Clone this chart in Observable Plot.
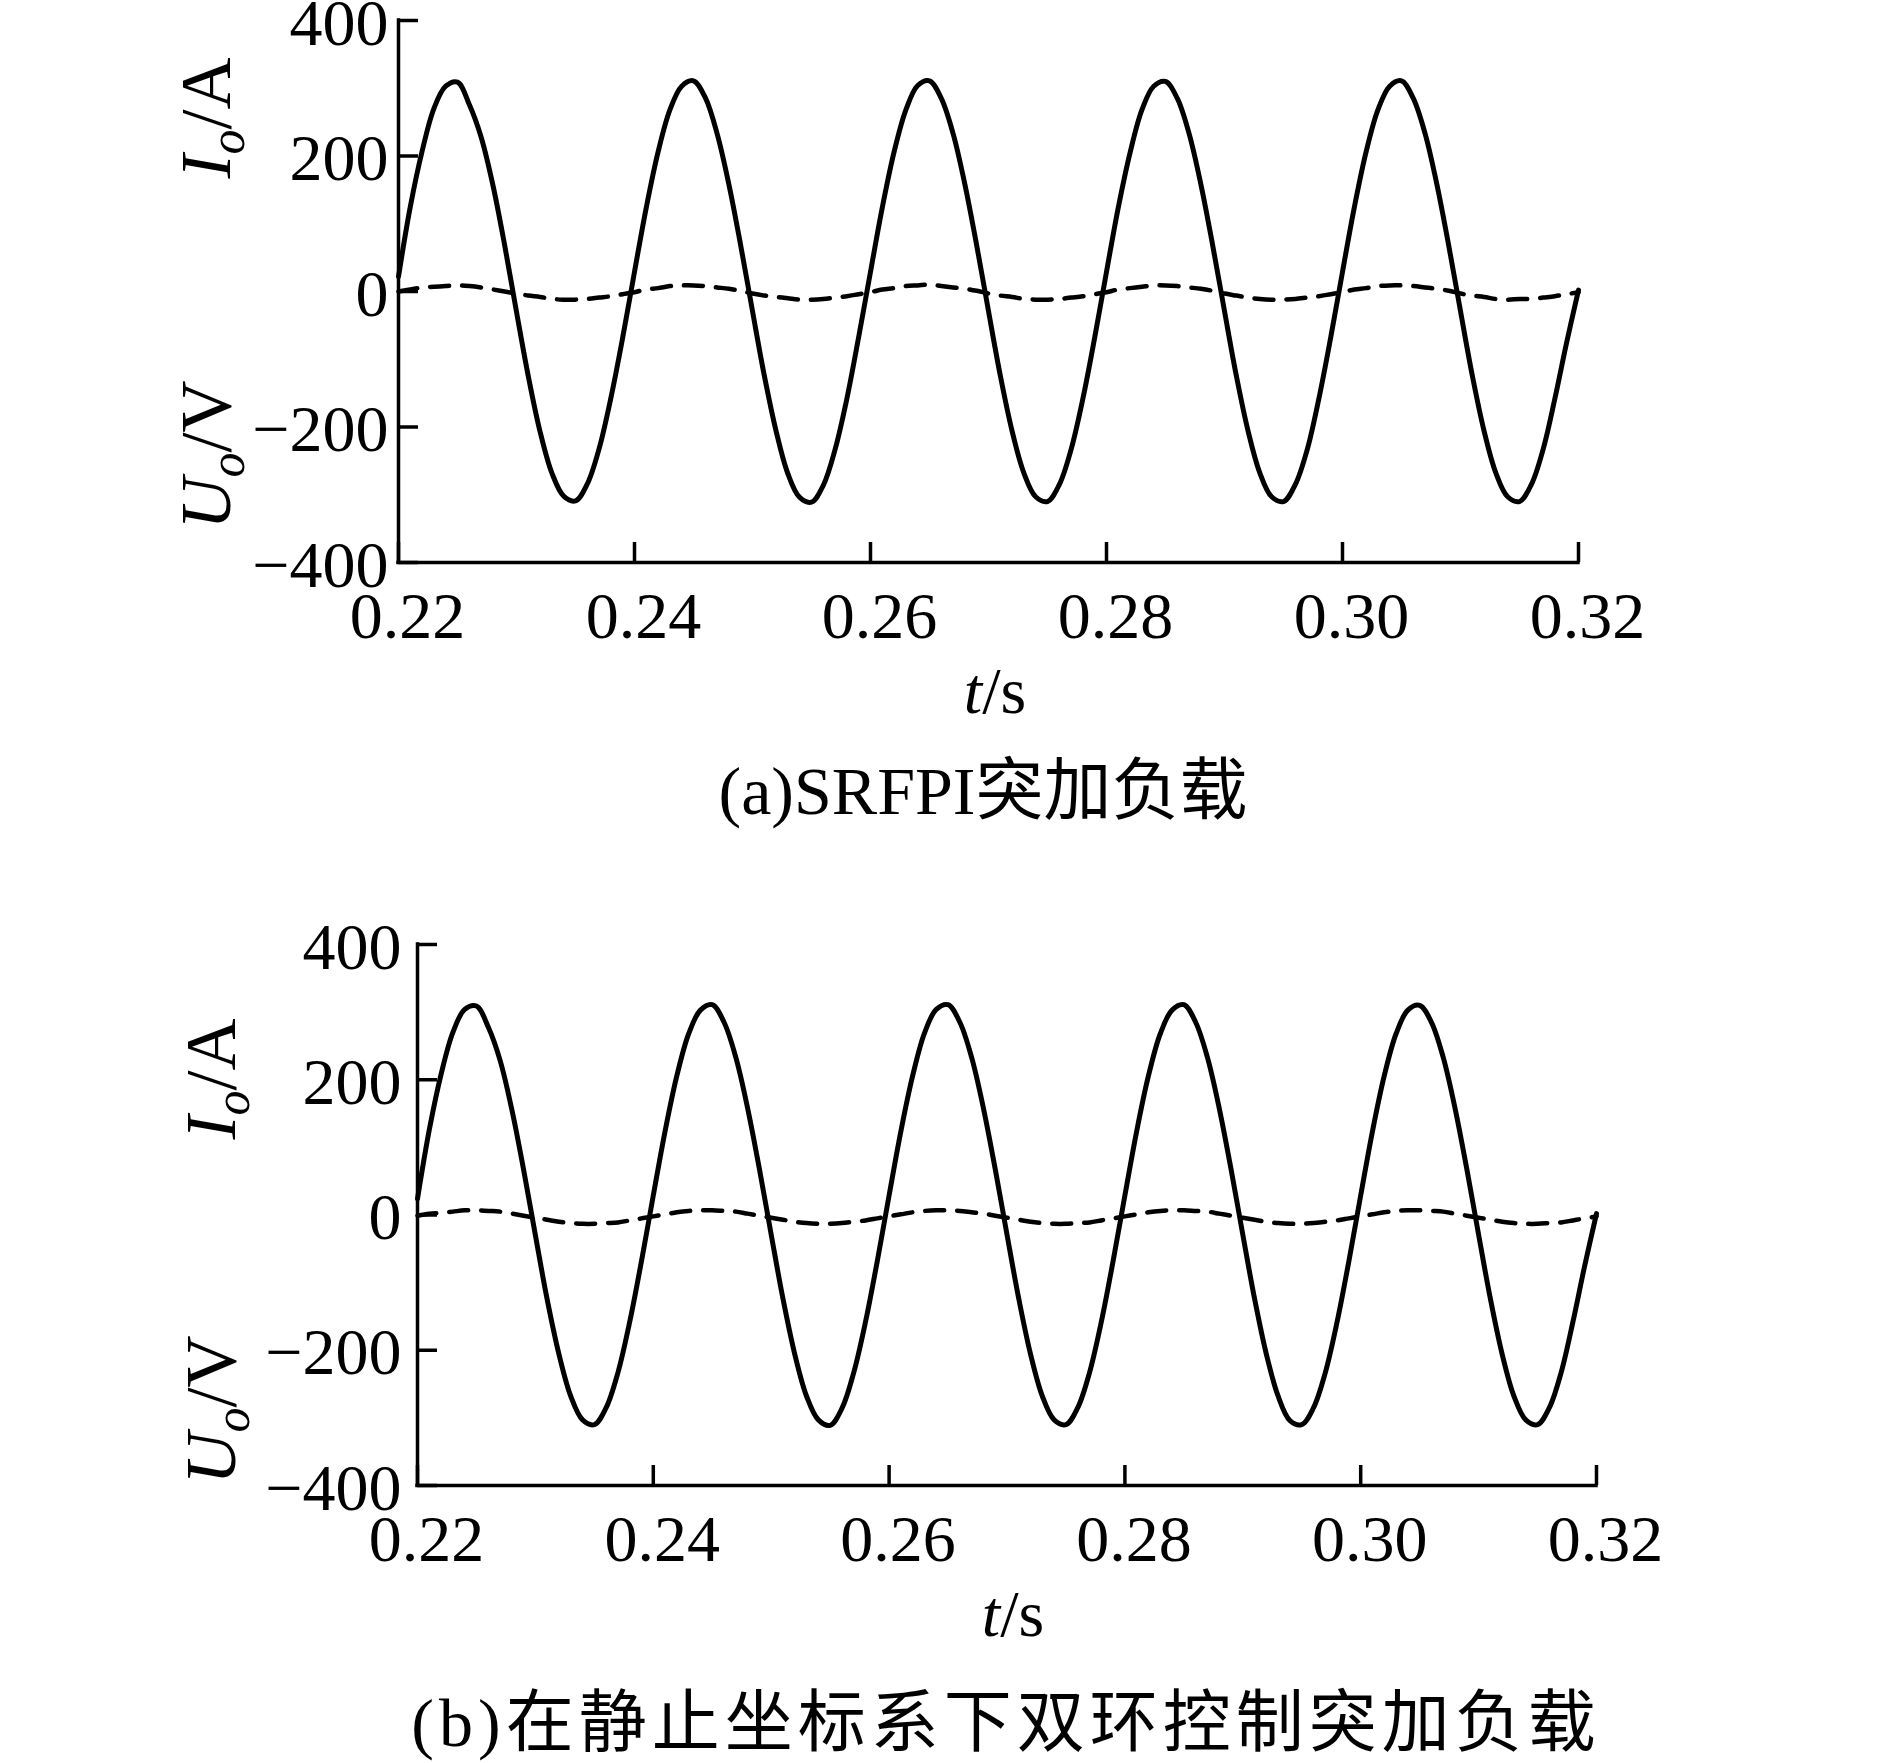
<!DOCTYPE html>
<html><head><meta charset="utf-8">
<script src="https://cdn.jsdelivr.net/npm/d3@7"></script>
<script src="https://cdn.jsdelivr.net/npm/@observablehq/plot@0.6"></script>
<style>
html,body{margin:0;padding:0;background:#fff;}
#root{position:relative;width:1889px;height:1763px;overflow:hidden;background:#fff;}
.panel{position:absolute;left:0;overflow:visible;}
.cap{position:absolute;left:0;text-align:center;font-family:"Liberation Serif","Noto Sans CJK SC",serif;font-size:68px;line-height:68px;color:#000;white-space:nowrap;}
</style></head><body><div id="root"></div>
<script>
// ---- data ----
const T = [0.220,0.221,0.222,0.223,0.224,0.225,0.226,0.227,0.228,0.229,
0.230,0.231,0.232,0.233,0.234,0.235,0.236,0.237,0.238,0.239,
0.240,0.241,0.242,0.243,0.244,0.245,0.246,0.247,0.248,0.249,
0.250,0.251,0.252,0.253,0.254,0.255,0.256,0.257,0.258,0.259,
0.260,0.261,0.262,0.263,0.264,0.265,0.266,0.267,0.268,0.269,
0.270,0.271,0.272,0.273,0.274,0.275,0.276,0.277,0.278,0.279,
0.280,0.281,0.282,0.283,0.284,0.285,0.286,0.287,0.288,0.289,
0.290,0.291,0.292,0.293,0.294,0.295,0.296,0.297,0.298,0.299,
0.300,0.301,0.302,0.303,0.304,0.305,0.306,0.307,0.308,0.309,
0.310,0.311,0.312,0.313,0.314,0.315,0.316,0.317,0.318,0.319,
0.320];

// (a) SRFPI: output voltage Uo (solid) and current Io (dashed)
const Ua = [22,125,207,270,303,309,276,228,157,68,-30,-125,-207,-268,-302,-309,-284,-232,-157,-68,
29,124,206,268,303,311,286,233,158,68,-29,-124,-206,-269,-304,-311,-286,-233,-158,-67,
29,124,206,268,304,311,285,233,158,68,-29,-124,-206,-268,-303,-310,-285,-233,-158,-68,
29,124,205,268,303,310,285,233,158,68,-29,-124,-206,-268,-303,-310,-285,-234,-158,-68,
29,124,206,268,303,311,285,233,158,68,-29,-124,-206,-268,-303,-310,-285,-233,-158,-75,
2];
const Ia = [0,3,6,7,8,9,8,6,3,0,-3,-6,-8,-11,-12,-12,-11,-9,-7,-4,
-1,3,5,8,9,9,8,6,4,1,-3,-6,-8,-10,-12,-12,-11,-9,-7,-4,
-1,3,5,8,9,10,8,6,4,1,-3,-6,-8,-11,-12,-12,-11,-9,-7,-4,
-1,3,5,7,9,9,8,6,4,1,-3,-6,-9,-11,-12,-12,-11,-9,-7,-4,
-1,3,5,8,9,9,8,6,4,1,-3,-6,-8,-11,-12,-11,-11,-9,-7,-4,
-1];

// (b) stationary-frame double loop
const Ub = [24,126,208,270,304,309,278,229,156,67,-30,-125,-206,-268,-303,-310,-285,-233,-158,-68,
29,124,206,268,303,311,285,233,158,68,-29,-124,-206,-268,-303,-311,-286,-233,-158,-68,
29,124,206,269,304,311,285,233,158,68,-29,-124,-206,-268,-303,-310,-285,-233,-158,-68,
29,124,206,268,303,311,285,233,158,68,-29,-124,-206,-268,-304,-310,-285,-233,-158,-68,
29,124,206,268,303,310,285,233,158,68,-29,-124,-206,-268,-303,-310,-285,-233,-158,-75,
2];
const Ib = [-1,2,3,5,7,7,6,5,2,-1,-4,-7,-10,-12,-13,-13,-12,-11,-8,-5,
-2,1,4,6,7,7,6,5,2,-1,-4,-7,-10,-12,-13,-13,-12,-10,-8,-5,
-2,1,4,6,7,7,6,4,2,-1,-4,-7,-10,-12,-13,-13,-12,-11,-8,-5,
-2,1,4,6,7,7,6,5,2,-1,-4,-7,-10,-12,-13,-13,-12,-10,-8,-5,
-2,1,4,6,7,7,6,5,2,-1,-4,-7,-10,-12,-13,-13,-12,-11,-8,-5,
-2];

const xTicks = [0.22,0.24,0.26,0.28,0.30,0.32];
const yTicks = [-400,-200,0,200,400];
const captionA = "(a)SRFPI突加负载";
const captionB = "(b)在静止坐标系下双环控制突加负载";

// ---- drawing ----
const W = 1889, H = 750;
function panel(U, I, cfg) {
  const innerW = W - cfg.ml - cfg.mr, innerH = H - cfg.mt - cfg.mb;
  const dU = T.map((t, i) => ({t, v: U[i]}));
  const dI = T.map((t, i) => ({t, v: I[i]}));
  const svg = Plot.plot({
    width: W, height: H,
    marginTop: cfg.mt, marginBottom: cfg.mb, marginLeft: cfg.ml, marginRight: cfg.mr,
    style: {fontFamily: "'Liberation Serif'", fontSize: "66px", background: "transparent", color: "black", overflow: "visible"},
    x: {domain: [0.22, 0.32], label: null},
    y: {domain: [-400, 400], label: null},
    marks: [
      Plot.line(dI, {x: "t", y: "v", stroke: "black", strokeWidth: 4.5, strokeDasharray: "19,13", curve: "catmull-rom"}),
      Plot.line(dU, {x: "t", y: "v", stroke: "black", strokeWidth: 5, curve: "catmull-rom"}),
      Plot.ruleX(xTicks, {stroke: "black", strokeWidth: 3.5, insetTop: innerH - 20}),
      Plot.ruleY(yTicks, {stroke: "black", strokeWidth: 3.5, insetRight: innerW - 20}),
      Plot.ruleX([0.22], {stroke: "black", strokeWidth: 3.5, strokeLinecap: "square"}),
      Plot.ruleY([-400], {stroke: "black", strokeWidth: 3.5, strokeLinecap: "square"}),
      Plot.axisX(xTicks, {tickSize: 0, tickPadding: 29, dx: 9, fontSize: 66, label: null,
        tickFormat: d => d.toFixed(2)}),
      Plot.axisY(yTicks, {tickSize: 0, tickPadding: cfg.ypad, dy: 3, fontSize: 66, label: null,
        tickFormat: d => d < 0 ? "\u2212" + Math.abs(d) : String(d)})
    ]
  });
  const s = d3.select(svg);
  const g = s.append("g").attr("font-family", "'Liberation Serif'").attr("fill", "black");
  function ylab(cy, main, unit) {
    const t = g.append("text")
      .attr("transform", `translate(${cfg.ylabX},${cy}) rotate(-90)`)
      .attr("text-anchor", "middle").attr("font-size", 72);
    t.append("tspan").attr("font-style", "italic").text(main);
    t.append("tspan").attr("font-style", "italic").attr("font-size", 50).attr("dy", 14).text("o");
    t.append("tspan").attr("dy", -14).text("/" + unit);
  }
  ylab(cfg.mt - 20 + cfg.iy, "I", "A");
  ylab(cfg.mt - 20 + cfg.uy, "U", "V");
  const xl = g.append("text").attr("x", cfg.tx).attr("y", cfg.mt - 20 + cfg.ty)
    .attr("text-anchor", "middle").attr("font-size", 66);
  xl.append("tspan").attr("font-style", "italic").text("t");
  xl.append("tspan").text("/s");
  svg.classList.add("panel");
  svg.style.top = cfg.top + "px";
  svg.style.overflow = "visible";
  return svg;
}

const root = document.getElementById("root");
// panel a: SVG top at -20 so that the frame top sits at y=20 (bottom at 562)
root.appendChild(panel(Ua, Ia, {top: -20, mt: 40, mb: 168, ml: 398, mr: 311, ypad: 10,
  ylabX: 230, iy: 118, uy: 455, tx: 995, ty: 713}));
// panel b: frame from y=944 to y=1485
root.appendChild(panel(Ub, Ib, {top: 904, mt: 40, mb: 169, ml: 417, mr: 293, ypad: 16,
  ylabX: 235, iy: 155, uy: 486, tx: 1013, ty: 712}));

function caption(text, cx, top, ls) {
  const d = document.createElement("div");
  d.className = "cap";
  d.style.width = (2 * cx) + "px";
  d.style.top = top + "px";
  d.style.letterSpacing = ls + "px";
  d.textContent = text;
  root.appendChild(d);
}
caption(captionA, 983, 757, 0);
caption(captionB, 1006, 1689, 5);
</script></body></html>
